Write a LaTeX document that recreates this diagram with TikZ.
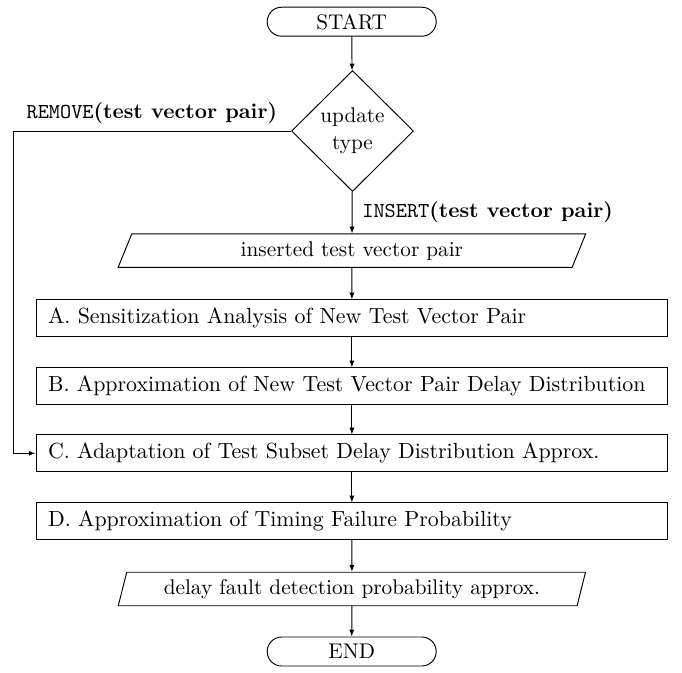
\documentclass[tikz,border=0pt]{standalone}
\usetikzlibrary{shapes.geometric,arrows.meta}
\newcommand\ptext[1]{\makebox[286pt][l]{\fontsize{10.3}{12.6}\selectfont #1}}
\begin{document}
\begin{tikzpicture}[x=0.4706pt,y=-0.4706pt,
  font=\fontsize{10}{12.6}\selectfont,
  arr/.style={draw, line width=0.45pt, -{Latex[length=3.2pt,width=2.4pt]}},
  term/.style={draw, line width=0.45pt, rectangle, rounded corners=6.8pt, minimum width=169*0.4706pt, minimum height=29*0.4706pt, inner sep=0pt},
  decision/.style={draw, line width=0.45pt, diamond, minimum width=122*0.4706pt, minimum height=121*0.4706pt, inner sep=0pt, align=center},
  iobox/.style={draw, line width=0.45pt, trapezium, trapezium left angle=70, trapezium right angle=110, trapezium stretches=true, minimum width=468.3*0.4706pt, minimum height=33.5*0.4706pt, inner sep=0pt},
  procbox/.style={draw, line width=0.45pt, rectangle, minimum width=631.7*0.4706pt, minimum height=36.7*0.4706pt, inner xsep=5.4pt, inner ysep=0pt},
  lbl/.style={inner sep=0pt}
]
\useasboundingbox (0,0) rectangle (682,673);

\node[term] (start) at (351.7,21.7) {START};
\node[decision] (dia) at (352.5,131) {update\\type};
\node[iobox] (p1) at (351.9,250.7) {inserted test vector pair};
\node[procbox] (A) at (351.9,318.3) {\ptext{A. Sensitization Analysis of New Test Vector Pair}};
\node[procbox] (B) at (351.9,386.3) {\ptext{B. Approximation of New Test Vector Pair Delay Distribution}};
\node[procbox] (C) at (351.9,453.3) {\ptext{C. Adaptation of Test Subset Delay Distribution Approx.}};
\node[procbox] (D) at (351.9,521.3) {\ptext{D. Approximation of Timing Failure Probability}};
\node[iobox] (p2) at (351.9,589) {delay fault detection probability approx.};
\node[term] (end) at (351.7,651.5) {END};

\node[lbl, anchor=base east] (rl) at (277.5,118.5) {\texttt{REMOVE}\textbf{(test vector pair)}};
\node[lbl, anchor=base west] (il) at (362,217) {\texttt{INSERT}\textbf{(test vector pair)}};

\coordinate (L) at (13.5,131);

\draw[arr] (start) -- (dia);
\draw[arr] (dia) -- (p1);
\draw[arr] (p1) -- (A);
\draw[arr] (A) -- (B);
\draw[arr] (B) -- (C);
\draw[arr] (C) -- (D);
\draw[arr] (D) -- (p2);
\draw[arr] (p2) -- (end);
\draw[arr] (dia.west) -- (L) |- (C.west);
\end{tikzpicture}
\end{document}
